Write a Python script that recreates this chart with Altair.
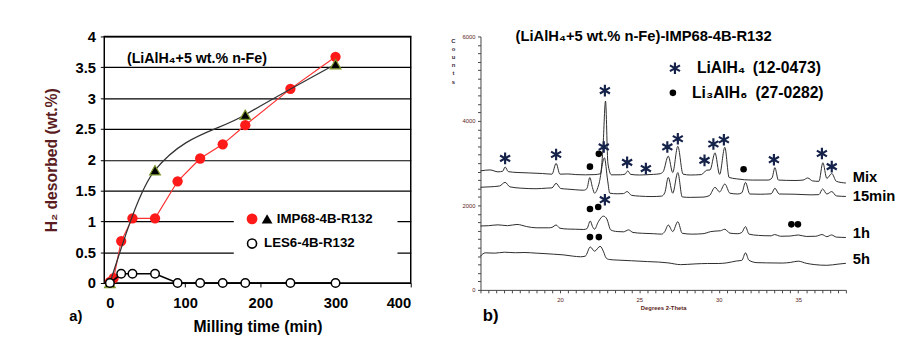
import altair as alt
import pandas as pd

FONT = "Liberation Sans"
MAROON = "#5a1c20"

# ---------------- Panel a data ----------------
imp_circ_x = [0, 5, 15, 30, 60, 90, 120, 150, 180, 240, 300]
imp_circ_y = [0.02, 0.08, 0.68, 1.05, 1.05, 1.65, 2.02, 2.25, 2.56, 3.15, 3.67]
imp_tri_x = [0, 60, 180, 300]
imp_tri_y = [0.0, 1.83, 2.73, 3.55]
les_x = [0, 15, 30, 60, 90, 120, 150, 180, 240, 300]
les_y = [0.0, 0.15, 0.15, 0.15, 0.0, 0.0, 0.0, 0.0, 0.0, 0.0]

# ---------------- Panel b data ----------------
mix_x = [15, 15.6, 16.1, 16.4, 16.55, 16.75, 17.3, 18.0, 18.9, 19.5, 19.76, 20.0, 20.5, 21.0, 21.6,
         22.2, 22.55, 22.7, 22.87, 23.02, 23.24, 23.8, 24.1, 24.27, 24.45, 25.0, 25.4, 25.9, 26.3,
         26.5, 26.82, 27.1, 27.42, 27.75, 28.2, 28.9, 29.24, 29.45, 29.76, 30.05, 30.38, 30.65,
         31.1, 32.1, 33.1, 33.35, 33.53, 33.75, 34.8, 35.3, 35.6, 35.9, 36.3, 36.55, 36.8, 37.11,
         37.4, 38.0]
mix_c = [2818, 2840, 2795, 2810, 2911, 2800, 2780, 2770, 2755, 2740, 2996, 2740, 2745, 2730, 2724,
         2730, 2750, 3300, 4471, 3000, 2724, 2725, 2740, 2818, 2735, 2720, 2725, 2735, 2750,
         2800, 3167, 2779, 3400, 2740, 2720, 2730, 2833, 2840, 3245, 2735, 3376, 2662,
         2630, 2600, 2600, 2650, 2894, 2600, 2590, 2600, 2650, 2580, 2570, 3010, 2640, 2755,
         2570, 2530]
m15_x = [15, 15.6, 16.2, 16.55, 16.85, 17.5, 18.5, 19.2, 19.5, 19.76, 20.05, 20.5, 21.0, 21.5, 21.7,
         21.88, 22.05, 22.18, 22.45, 22.8, 23.0, 23.14, 23.6, 24.0, 24.23, 24.5, 25.0, 25.8, 26.4,
         26.6, 26.82, 27.1, 27.42, 27.7, 28.2, 29.0, 29.4, 29.76, 30.05, 30.38, 30.7, 31.2, 31.45,
         31.68, 31.95, 32.6, 33.3, 33.53, 33.8, 34.8, 35.8, 36.3, 36.53, 36.8, 37.11, 37.4, 38.0]
m15_c = [2430, 2440, 2460, 2546, 2440, 2410, 2395, 2410, 2415, 2523, 2400, 2385, 2370, 2360, 2400,
         2661, 2420, 2289, 2500, 3128, 2600, 2290, 2275, 2280, 2329, 2240, 2220, 2210, 2220,
         2300, 2661, 2289, 2778, 2200, 2190, 2196, 2230, 2428, 2320, 2507, 2289, 2270, 2300,
         2545, 2270, 2265, 2275, 2406, 2270, 2265, 2250, 2255, 2390, 2270, 2328, 2225, 2212]
h1_x = [15, 15.5, 16.1, 16.7, 17.3, 17.9, 18.5, 19.3, 19.5, 19.76, 20.0, 20.5, 21.0, 21.5, 21.7,
        21.91, 22.05, 22.18, 22.4, 22.74, 22.95, 23.2, 23.6, 24.0, 24.32, 24.6, 25.2, 25.9, 26.4,
        26.6, 26.82, 27.1, 27.42, 27.7, 28.3, 29.0, 29.5, 29.9, 30.1, 30.38, 30.7, 31.2, 31.45,
        31.68, 31.9, 32.5, 33.3, 33.5, 33.9, 34.5, 35.0, 35.5, 36.1, 36.5, 36.8, 37.1, 37.4, 38.0]
h1_c = [1513, 1520, 1540, 1520, 1550, 1500, 1470, 1470, 1480, 1536, 1460, 1440, 1436, 1430, 1450,
        1630, 1500, 1436, 1600, 1746, 1680, 1420, 1381, 1375, 1420, 1360, 1340, 1330, 1320,
        1380, 1536, 1381, 1614, 1340, 1320, 1330, 1380, 1395, 1400, 1436, 1343, 1330, 1360,
        1498, 1320, 1290, 1280, 1310, 1270, 1275, 1300, 1265, 1270, 1310, 1260, 1300, 1250, 1241]
h5_x = [15, 15.3, 15.9, 16.5, 17.2, 17.8, 18.5, 19.0, 19.6, 20.2, 20.8, 21.3, 21.6, 21.91, 22.18,
        22.53, 22.75, 22.9, 23.1, 23.6, 24.5, 25.5, 26.2, 26.8, 27.6, 28.5, 29.3, 30.0, 30.5,
        31.1, 31.45, 31.68, 31.9, 32.4, 33.0, 34.0, 34.5, 35.0, 35.5, 36.0, 36.8, 37.5, 38.0]
h5_c = [799, 877, 870, 892, 880, 885, 870, 860, 845, 830, 800, 784, 800, 1016, 916,
        1032, 900, 760, 720, 706, 690, 670, 659, 640, 598, 615, 625, 625, 640,
        683, 700, 877, 700, 645, 640, 635, 650, 680, 630, 600, 582, 610, 629]

star_x = [16.55, 19.76, 22.83, 22.76, 24.23, 25.41, 26.76, 27.42, 29.1, 29.66, 30.32, 33.47, 36.49, 37.11, 22.83, 27.24]
star_c = [3113, 3206, 4719, 3384, 3019, 2872, 3384, 3578, 3066, 3454, 3555, 3082, 3229, 2918, 2135, 5247]
dot_x = [21.89, 22.45, 31.56, 21.89, 22.41, 34.57, 34.98, 21.89, 22.45, 27.11]
dot_c = [2918, 3221, 2856, 1917, 1964, 1552, 1552, 1250, 1250, 4665]

trace_names = ["Mix", "15min", "1h", "5h"]
trace_label_c = [2660, 2230, 1350, 722]

# ---------------- Panel a ----------------
XA = alt.X("x:Q", scale=alt.Scale(domain=[-7.5, 400], nice=False, zero=False),
           axis=alt.Axis(values=[0, 100, 200, 300, 400], title="Milling time (min)", grid=False,
                         labelFont=FONT, labelFontSize=15, labelFontWeight="bold", labelColor="black",
                         labelPadding=9, tickSize=4, tickColor="black", domain=False,
                         titleFont=FONT, titleFontSize=16, titleFontWeight="bold", titleColor="black",
                         titlePadding=8))
YA = alt.Y("y:Q", scale=alt.Scale(domain=[0, 4], nice=False, zero=False),
           axis=alt.Axis(values=[0, 0.5, 1, 1.5, 2, 2.5, 3, 3.5, 4], format="~g", grid=True,
                         gridColor="black", gridWidth=1.2, gridOpacity=1, domain=False,
                         title="H₂ desorbed (wt.%)", labelFont=FONT, labelFontSize=15,
                         labelFontWeight="bold", labelColor="black", labelPadding=5, tickSize=4,
                         tickColor="black", titleFont=FONT, titleFontSize=16, titleFontWeight="bold",
                         titleColor=MAROON, titlePadding=16))

circ_df = pd.DataFrame({"x": imp_circ_x, "y": imp_circ_y})
tri_df = pd.DataFrame({"x": imp_tri_x, "y": imp_tri_y})
les_df = pd.DataFrame({"x": les_x, "y": les_y})

box_df = pd.DataFrame({"x": [164.7], "x2": [382.4], "y": [0.43], "y2": [1.28]})
box = alt.Chart(box_df).mark_rect(fill="white", stroke=None).encode(x=XA, x2="x2", y=YA, y2="y2")

red_line = alt.Chart(circ_df).mark_line(color="#ff3030", strokeWidth=1.2).encode(x=XA, y=YA)
red_pts = alt.Chart(circ_df).mark_point(shape="circle", filled=True, color="#ff1a1a", size=110, opacity=1).encode(x=XA, y=YA)
blk_curve = alt.Chart(tri_df).mark_line(color="#333333", strokeWidth=1.3, interpolate="monotone").encode(x=XA, y=YA)
tri_pts = alt.Chart(tri_df).mark_point(shape="triangle-up", filled=True, fill="black", stroke="#7f9a2e",
                                       strokeWidth=1.2, size=120, opacity=1).encode(x=XA, y=YA)
les_line = alt.Chart(les_df).mark_line(color="black", strokeWidth=1.6).encode(x=XA, y=YA)
les_pts = alt.Chart(les_df).mark_point(shape="circle", filled=True, fill="white", stroke="black",
                                       strokeWidth=1.5, size=75, opacity=1).encode(x=XA, y=YA)

leg_red = alt.Chart(pd.DataFrame({"x": [189], "y": [1.04]})).mark_point(
    shape="circle", filled=True, color="#ff1a1a", size=120, opacity=1).encode(x=XA, y=YA)
leg_tri = alt.Chart(pd.DataFrame({"x": [209], "y": [1.04]})).mark_point(
    shape="triangle-up", filled=True, color="black", size=120, opacity=1).encode(x=XA, y=YA)
leg_open = alt.Chart(pd.DataFrame({"x": [189], "y": [0.64]})).mark_point(
    shape="circle", filled=True, fill="white", stroke="black", strokeWidth=1.6, size=85, opacity=1).encode(x=XA, y=YA)

def texts(df, X, Y, size, align="left", color="black"):
    return alt.Chart(df).mark_text(font=FONT, fontSize=size, fontWeight="bold", align=align,
                                   baseline="middle", color=color).encode(x=X, y=Y, text="t:N")

a_txt1 = texts(pd.DataFrame({"x": [222, 205], "y": [1.04, 0.64], "t": ["IMP68-4B-R132", "LES6-4B-R132"]}), XA, YA, 13.5)
a_txt2 = texts(pd.DataFrame({"x": [22.6], "y": [3.64], "t": ["(LiAlH₄+5 wt.% n-Fe)"]}), XA, YA, 14.5)
a_txt3 = texts(pd.DataFrame({"x": [-54], "y": [-0.53], "t": ["a)"]}), XA, YA, 15)

panel_a = alt.layer(box, red_line, red_pts, blk_curve, tri_pts, les_line, les_pts,
                    leg_red, leg_tri, leg_open, a_txt1, a_txt2, a_txt3).properties(
    width=312, height=251, view=alt.ViewBackground(stroke="black", strokeWidth=1.5))

# ---------------- Panel b ----------------
xb_vals = [15 + 0.5 * i for i in range(47)]
yb_vals = [200 * i for i in range(31)]
XB = alt.X("x:Q", scale=alt.Scale(domain=[15, 38], nice=False, zero=False),
           axis=alt.Axis(values=xb_vals, labelExpr="(datum.value % 5 == 0 && datum.value > 15) ? datum.value : ''",
                         title="Degrees 2-Theta", grid=False, labelFont=FONT, labelFontSize=6,
                         labelColor=MAROON, labelPadding=4, tickSize=3, tickColor="#444",
                         domainColor="#444", titleFont=FONT, titleFontSize=6, titleFontWeight="bold",
                         titleColor=MAROON, titlePadding=2))
YB = alt.Y("c:Q", scale=alt.Scale(domain=[0, 6000], nice=False, zero=False),
           axis=alt.Axis(values=yb_vals, labelExpr="datum.value % 2000 == 0 ? datum.value : ''",
                         title=["C", "o", "u", "n", "t", "s"], titleAngle=0, titleX=-28, titleY=1,
                         titleBaseline="top", titleAlign="center", titleLineHeight=8.3,
                         titleFont=FONT, titleFontSize=6, titleFontWeight="bold", titleColor="#3a2a40",
                         grid=False, labelFont=FONT, labelFontSize=6, labelColor=MAROON,
                         labelPadding=2.5, tickSize=3, tickColor="#444", domainColor="#444"))

rows = []
for name, xs, cs in [("Mix", mix_x, mix_c), ("15min", m15_x, m15_c), ("1h", h1_x, h1_c), ("5h", h5_x, h5_c)]:
    for i, (xv, cv) in enumerate(zip(xs, cs)):
        rows.append({"trace": name, "i": i, "x": xv, "c": cv})
tr_df = pd.DataFrame(rows)

traces = alt.Chart(tr_df).mark_line(color="#2a2a2a", strokeWidth=1, interpolate="monotone").encode(
    x=XB, y=YB, detail="trace:N", order="i:Q")

star_df = pd.DataFrame({"x": star_x, "c": star_c})
stars = alt.Chart(star_df).mark_point(
    shape="M0,-1L0,1M-0.866,-0.5L0.866,0.5M-0.866,0.5L0.866,-0.5",
    filled=False, stroke="#15224a", strokeWidth=2.2, size=140, opacity=1).encode(x=XB, y=YB)
dot_df = pd.DataFrame({"x": dot_x, "c": dot_c})
dots = alt.Chart(dot_df).mark_point(shape="circle", filled=True, color="black", size=45, opacity=1).encode(x=XB, y=YB)

b_labels = texts(pd.DataFrame({"x": [38.43] * 4, "c": trace_label_c, "t": trace_names}), XB, YB, 15)
b_title = texts(pd.DataFrame({"x": [25.27], "c": [6006], "t": ["(LiAlH₄+5 wt.% n-Fe)-IMP68-4B-R132"]}), XB, YB, 15, align="center")
b_leg = texts(pd.DataFrame({"x": [28.62, 32.14, 28.31, 32.31], "c": [5247, 5247, 4665, 4665],
                            "t": ["LiAlH₄", "(12-0473)", "Li₃AlH₆", "(27-0282)"]}), XB, YB, 16)
b_tag = texts(pd.DataFrame({"x": [15.14], "c": [-628], "t": ["b)"]}), XB, YB, 17)

panel_b = alt.layer(traces, stars, dots, b_labels, b_title, b_leg, b_tag).properties(
    width=372, height=258, view=alt.ViewBackground(stroke="transparent"))

chart = alt.hconcat(panel_a, panel_b, spacing=71, bounds="flush").properties(
    padding={"left": 35, "top": 18, "right": 0, "bottom": 0}, background="white")

chart.save("out.html", embed_options={"renderer": "svg", "actions": False})
